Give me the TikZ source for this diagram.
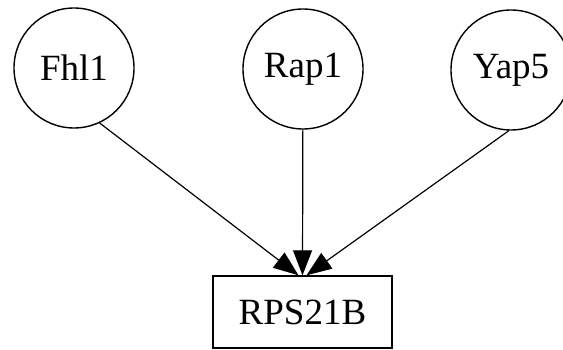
\documentclass[tikz,border=0pt]{standalone}
\usepackage{fontspec}
\setmainfont{Liberation Serif}
\usetikzlibrary{arrows.meta,calc}
\begin{document}
\begin{tikzpicture}[x=1pt,y=-1pt,
  tf/.style={draw,circle,line width=1.4pt,minimum size=120pt,inner sep=0pt,font=\fontsize{37}{40}\selectfont},
  gene/.style={draw,rectangle,line width=1.4pt,minimum width=179pt,minimum height=72pt,inner sep=0pt,font=\fontsize{37}{40}\selectfont},
  edge/.style={line width=1.2pt,-{Triangle[length=25pt,width=19pt]}}]
\useasboundingbox[fill=white] (0,0) rectangle (563,350);
\node[tf] (f) at (74,68) {Fhl1};
\node[tf] (r) at (303,69) {Rap1};
\node[tf] (y) at (511,70) {Yap5};
\node[gene] (g) at (302.5,312) {RPS21B};
\coordinate (tf1) at ($(g.north)+(-4,0)$);
\coordinate (tf3) at ($(g.north)+(4,0)$);
\draw[edge] (f.-65) -- (tf1);
\draw[edge] (r) -- (g.north);
\draw[edge] (y.-92) -- (tf3);
\end{tikzpicture}
\end{document}
